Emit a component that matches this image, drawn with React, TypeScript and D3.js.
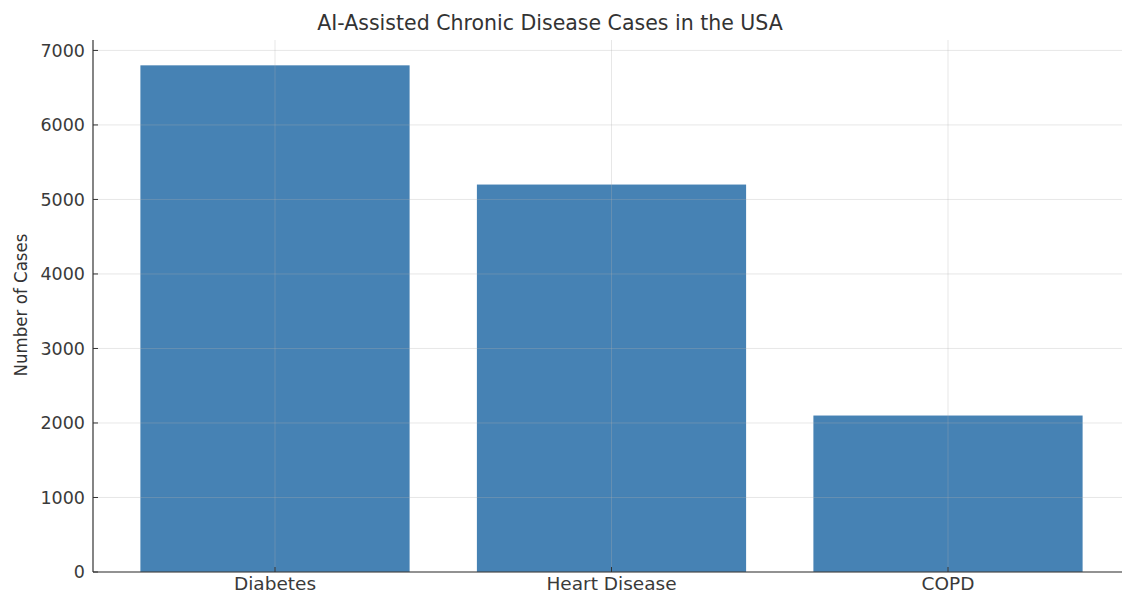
import React from "react";
import * as d3 from "d3";

const categories: string[] = ["Diabetes", "Heart Disease", "COPD"];
const cases: number[] = [6800, 5200, 2100];
const yTicks: number[] = [0, 1000, 2000, 3000, 4000, 5000, 6000, 7000];
const title = "AI-Assisted Chronic Disease Cases in the USA";
const yLabel = "Number of Cases";

const W = 1122;
const H = 594;
const FONT = "'DejaVu Sans', sans-serif";

export default function App() {
  const plotLeft = 93;
  const plotTop = 40;
  const plotBottom = 572;

  const y = d3.scaleLinear().domain([0, 7140]).range([plotBottom, plotTop]);
  const x = d3
    .scaleBand<string>()
    .domain(categories)
    .range([106.75, 1116.25])
    .paddingInner(0.2)
    .paddingOuter(0.1);
  const step = x.step();
  const center = (c: string) => (x(c) as number) + x.bandwidth() / 2;
  const plotRight = center(categories[categories.length - 1]) + 0.54 * step;

  return (
    <svg
      width={W}
      height={H}
      style={{ position: "absolute", left: 0, top: 0, background: "#fff" }}
      fontFamily={FONT}
    >
      <rect x={0} y={0} width={W} height={H} fill="#fff" />
      {/* bars */}
      {categories.map((c, i) => (
        <rect
          key={c}
          x={x(c)}
          y={y(cases[i])}
          width={x.bandwidth()}
          height={y(0) - y(cases[i])}
          fill="#4682b4"
        />
      ))}
      {/* grid drawn above the bars */}
      <g stroke="#b0b0b0" strokeOpacity={0.3} strokeWidth={1}>
        {yTicks.map((t) => (
          <line key={t} x1={plotLeft} x2={plotRight} y1={y(t)} y2={y(t)} />
        ))}
        {categories.map((c) => (
          <line key={c} x1={center(c)} x2={center(c)} y1={plotTop} y2={plotBottom} />
        ))}
      </g>
      {/* spines */}
      <line x1={plotLeft} x2={plotLeft} y1={plotTop} y2={plotBottom} stroke="#333" strokeWidth={1.2} />
      <line x1={plotLeft} x2={plotRight} y1={plotBottom} y2={plotBottom} stroke="#333" strokeWidth={1.2} />
      {/* y ticks */}
      {yTicks.map((t) => (
        <g key={t}>
          <line x1={plotLeft} x2={plotLeft + 5} y1={y(t)} y2={y(t)} stroke="#333" />
          <text
            x={plotLeft - 8}
            y={y(t)}
            dy="0.36em"
            textAnchor="end"
            fontSize={17.5}
            fill="#3a3a3a"
          >
            {t}
          </text>
        </g>
      ))}
      {/* x ticks */}
      {categories.map((c) => (
        <g key={c}>
          <line x1={center(c)} x2={center(c)} y1={plotBottom} y2={plotBottom - 5} stroke="#333" />
          <text x={center(c)} y={590} textAnchor="middle" fontSize={18.5} fill="#3a3a3a">
            {c}
          </text>
        </g>
      ))}
      <text
        transform="translate(27,305) rotate(-90)"
        textAnchor="middle"
        fontSize={18.5}
        fill="#333"
        fontFamily="'DejaVu Sans Condensed', 'DejaVu Sans', sans-serif"
      >
        {yLabel}
      </text>
      <text x={550} y={30} textAnchor="middle" fontSize={20.5} fill="#333">
        {title}
      </text>
    </svg>
  );
}
